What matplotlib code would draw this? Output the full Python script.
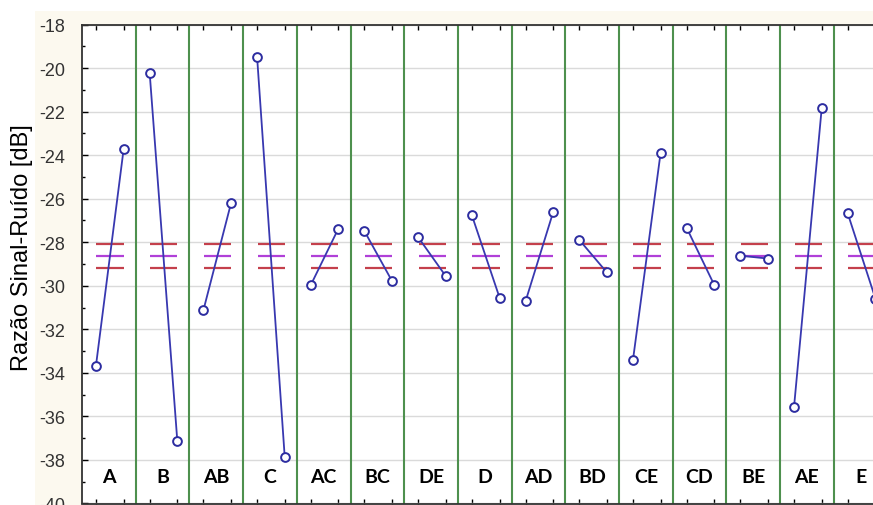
import matplotlib
matplotlib.use("Agg")
import matplotlib.pyplot as plt
from matplotlib.patches import Rectangle
from matplotlib.ticker import MultipleLocator

# ---- data ----
factors = ["A", "B", "AB", "C", "AC", "BC", "DE", "D", "AD", "BD", "CE", "CD", "BE", "AE", "E"]
level_low = [-33.67, -20.22, -31.13, -19.47, -29.97, -27.49, -27.77, -26.76, -30.71,
             -27.89, -33.41, -27.34, -28.62, -35.55, -26.68]
level_high = [-23.73, -37.13, -26.21, -37.86, -27.37, -29.79, -29.56, -30.54, -26.61,
              -29.39, -23.89, -29.97, -28.75, -21.84, -30.59]
grand_mean = -28.64
band_upper = -28.09
band_lower = -29.17
y_ticks = list(range(-40, -17, 2))
y_tick_labels = [str(v) for v in y_ticks]

# ---- figure ----
W, H = 873, 506
fig = plt.figure(figsize=(W / 100, H / 100), dpi=100, facecolor="white")
fig.patches.append(Rectangle((35 / W, 0), 1, 1 - 12 / H, transform=fig.transFigure,
                             facecolor="#FCF9EF", edgecolor="none", zorder=-10))

left_px, right_px = 82, 82 + 15 * 53.7
top_px, bot_px = 25.5, 504.5
ax = fig.add_axes([left_px / W, (H - bot_px) / H, (right_px - left_px) / W, (bot_px - top_px) / H])
ax.set_facecolor("white")

n = len(factors)
ax.set_xlim(0, n)
ax.set_ylim(-40, -18)

xoff = [0.26, 0.775]
xticks = []
for i in range(n):
    xs = [i + xoff[0], i + xoff[1]]
    xticks += xs
    for yv, c in ((band_upper, "#C4404C"), (band_lower, "#C4404C"), (grand_mean, "#B040D8")):
        ax.plot([xs[0] + 0.01, xs[1]], [yv, yv], color=c, lw=1.6, zorder=3, solid_capstyle="butt")
    ax.plot(xs, [level_low[i], level_high[i]], color="#3838B0", lw=1.3, zorder=4,
            marker="o", markersize=6.3, markerfacecolor="white", markeredgecolor="#2C2CA0",
            markeredgewidth=1.4)
    ax.text(i + 0.5, -38.75, factors[i], ha="center", va="center", fontsize=14,
            fontweight="bold", family="Lato", color="black", zorder=5)
    if i > 0:
        ax.axvline(i, color="#4E904E", lw=1.5, zorder=2)

ax.set_yticks(y_ticks)
ax.set_yticklabels(y_tick_labels)
ax.yaxis.set_minor_locator(MultipleLocator(1))
ax.set_xticks(xticks)
ax.set_xticklabels([])
ax.tick_params(axis="y", which="major", direction="in", length=4, width=1, labelsize=13,
               labelcolor="#333333", pad=12, right=False)
ax.tick_params(axis="y", which="minor", direction="in", length=2.5, width=1, right=False)
ax.tick_params(axis="x", direction="in", length=3.5, width=1, top=True, bottom=True)
for lab in ax.get_yticklabels():
    lab.set_family("Liberation Sans")
ax.grid(axis="y", which="major", color="#DADADA", lw=1, zorder=0)
ax.set_axisbelow(True)
for s in ("left", "top", "bottom"):
    ax.spines[s].set_color("#333333")
    ax.spines[s].set_linewidth(1.3)
ax.spines["right"].set_visible(False)

fig.text(22 / W, 1 - 248 / H, "Razão Sinal-Ruído [dB]", rotation=90, ha="center", va="center",
         fontsize=17, family="Liberation Sans", color="black")

fig.savefig("out.png", dpi=100, facecolor=fig.get_facecolor())
